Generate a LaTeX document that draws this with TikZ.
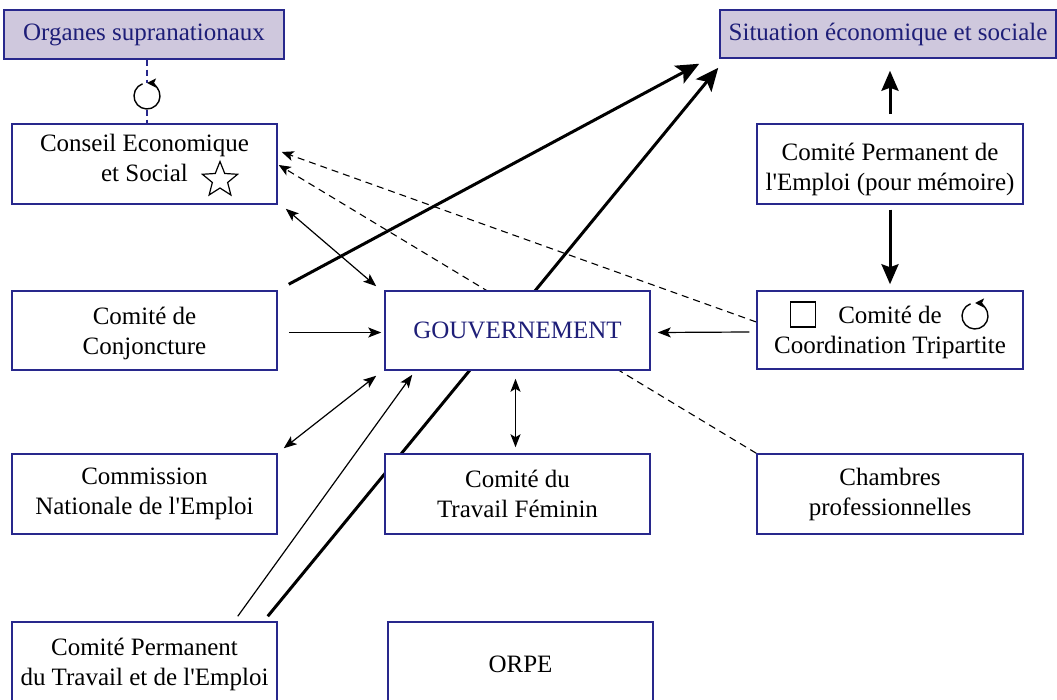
\documentclass[tikz,border=0pt]{standalone}
\usepackage{fontspec}
\setmainfont{Liberation Serif}[Ligatures=TeXOff]
\usetikzlibrary{arrows.meta,shapes.geometric,backgrounds,calc}
\definecolor{boxblue}{RGB}{40,40,140}
\definecolor{txtblue}{RGB}{30,30,120}
\definecolor{lav}{RGB}{207,200,221}
\newcommand{\lowered}[2]{\raisebox{-#1}[\height][\depth]{\begin{tabular}{@{}c@{}}#2\end{tabular}}}
\tikzset{
 box/.style={draw=boxblue, line width=1.5pt, fill=white, rectangle, inner sep=0pt,
   minimum width=265pt, minimum height=80pt, align=center,
   font=\fontsize{25}{30}\selectfont, text=black},
 topbox/.style={box, fill=lav, text=txtblue},
 thinarr/.style={line width=1.2pt, -{Stealth[length=13pt,width=10pt,inset=3pt]}},
 thinboth/.style={line width=1.2pt, {Stealth[length=13pt,width=10pt,inset=3pt]}-{Stealth[length=13pt,width=10pt,inset=3pt]}},
 bigarr/.style={line width=3pt, -{Stealth[length=23pt,width=20pt,inset=5pt]}},
 vertarr/.style={line width=3pt, -{Stealth[length=20pt,width=17pt,inset=3pt]}},
 dasharr/.style={line width=1.1pt, dash pattern=on 7pt off 5pt, -{Stealth[length=12pt,width=10pt,inset=3pt]}},
 bluedash/.style={draw=boxblue, line width=1.2pt, dash pattern=on 6pt off 4pt},
 symb/.style={draw, line width=1.2pt, inner sep=0pt, fill=white},
 rotarr/.style={line width=1.4pt, -{Stealth[length=9pt,width=9pt,inset=2pt]}}
}
\begin{document}
\begin{tikzpicture}[x=1pt,y=-1pt]
\useasboundingbox (0,0) rectangle (1057,700);
% boxes
\node[topbox, minimum width=280pt, minimum height=49pt] (org) at (144,34.5) {Organes supranationaux};
\node[topbox, minimum width=336pt, minimum height=48pt] (sit) at (888,34) {Situation économique et sociale};
\node[box] (ces) at (144.5,164) {\lowered{-3pt}{Conseil Economique\\et Social}};
\node[box, minimum width=266pt] (cpe) at (890,164) {\lowered{6pt}{Comité Permanent de\\l'Emploi (pour mémoire)}};
\node[box, minimum height=79pt] (conj) at (144.5,330.5) {\lowered{3pt}{Comité de\\Conjoncture}};
\node[box, minimum height=79pt, text=txtblue] (gouv) at (517.5,330.5) {GOUVERNEMENT};
\node[box, minimum width=266pt, minimum height=78pt] (trip) at (890,330) {\lowered{3pt}{Comité de\\Coordination Tripartite}};
\node[box] (cne) at (144.5,494) {Commission\\Nationale de l'Emploi};
\node[box] (ctf) at (517.5,494) {Comité du\\Travail Féminin};
\node[box, minimum width=266pt] (cham) at (890,494) {Chambres\\professionnelles};
\node[box, minimum height=84pt] (cpte) at (144.5,664) {Comité Permanent\\du Travail et de l'Emploi};
\node[box, minimum height=84pt] (orpe) at (520.5,664) {ORPE};
% symbols
\node[symb, star, star points=5, star point ratio=2.3, minimum size=37pt] (star) at (220,180) {};
\node[symb, rectangle, minimum size=25pt] (sq) at (803,314.5) {};
\coordinate (c1) at (147,96);
\coordinate (c2) at (975,316);
\fill[white] (c1) circle (13);
\draw[rotarr] ($(c1)+(250:13)$) arc[start angle=250, end angle=-90, radius=13];
\draw[rotarr] ($(c2)+(250:13)$) arc[start angle=250, end angle=-90, radius=13];
% connectors
\begin{pgfonlayer}{background}
\fill[white] (0,0) rectangle (1057,700);
\draw[bluedash] (org.south -| c1) -- (ces.north -| c1);
\draw[bigarr] ($(conj.north east)+(11,-6)$) -- ($(sit.south west)+(-20,5)$);
\draw[bigarr] ($(cpte.north east)+(-10,-5)$) -- ($(sit.south west)+(-1,9)$);
\draw[thinarr] ($(cpte.north east)+(-40,-5)$) -- ($(gouv.south west)+(28,4)$);
\draw[thinboth] ($(gouv.south west)+(-8,5)$) -- ($(cne.north east)+(6,-5)$);
\draw[thinboth] ($(ces.south east)+(8,4)$) -- ($(gouv.north west)+(-8,-4)$);
\draw[thinarr] ($(conj.east)+(11,2)$) -- ($(gouv.west)+(-3,2)$);
\draw[thinarr] ($(trip.west)+(-7,2)$) -- ($(gouv.east)+(7,2)$);
\draw[thinboth] ($(gouv.south)+(-2,8)$) -- ($(ctf.north)+(-2,-6)$);
\draw[vertarr] ($(cpe.north)+(0,-9)$) -- ($(sit.south)+(2,12)$);
\draw[vertarr] ($(cpe.south)+(0,5)$) -- ($(trip.north)+(0,-6)$);
\draw[dasharr] ($(trip.west)+(0,-8)$) -- ($(ces.east)+(4,-12)$);
\draw[dasharr] (cham.north west) -- ($(ces.east)+(1,1)$);
\end{pgfonlayer}
\end{tikzpicture}
\end{document}
